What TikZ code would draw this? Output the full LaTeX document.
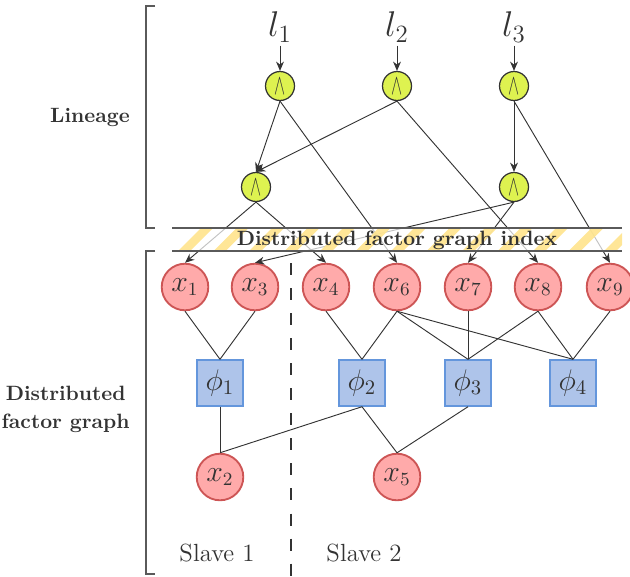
\documentclass[tikz,border=0pt]{standalone}
\usepackage{graphicx}
\usetikzlibrary{arrows.meta}
\definecolor{ink}{RGB}{51,51,51}
\definecolor{andfill}{RGB}{222,242,80}
\definecolor{xfill}{RGB}{255,170,170}
\definecolor{xdraw}{RGB}{205,85,85}
\definecolor{ffill}{RGB}{174,196,234}
\definecolor{fdraw}{RGB}{100,150,220}
\definecolor{stripe}{RGB}{255,228,140}
\definecolor{brk}{RGB}{90,90,90}
\begin{document}
\begin{tikzpicture}[x=0.483pt,y=-0.483pt,
  lit/.style={font=\LARGE, text=ink, inner sep=1.5pt},
  andnode/.style={circle, draw=ink, fill=andfill, line width=0.6pt, minimum size=14pt, inner sep=0pt, text=ink},
  varnode/.style={circle, draw=xdraw, fill=xfill, line width=0.9pt, minimum size=22.5pt, inner sep=0pt, font=\fontsize{13.5}{16}\selectfont, text=ink},
  facnode/.style={rectangle, draw=fdraw, fill=ffill, line width=0.9pt, minimum size=22pt, inner sep=0pt, font=\Large, text=ink},
  edge/.style={draw=ink, line width=0.45pt},
  arr/.style={edge, -{Stealth[length=4.5pt,width=3.8pt]}},
  sidelabel/.style={font=\bfseries, text=ink, anchor=east, align=center},
  bracket/.style={draw=brk, line width=0.9pt},
  bandline/.style={draw=brk, line width=0.6pt}
]
\useasboundingbox (0,0) rectangle (630,576);

% lineage
\node[lit] (l1) at (280,27) {$l_1$};
\node[lit] (l2) at (397,27) {$l_2$};
\node[lit] (l3) at (514,27) {$l_3$};
\node[andnode] (a1) at (280,86) {\scalebox{0.8}[1.4]{$\wedge$}};
\node[andnode] (a2) at (397,86) {\scalebox{0.8}[1.4]{$\wedge$}};
\node[andnode] (a3) at (514,86) {\scalebox{0.8}[1.4]{$\wedge$}};
\node[andnode] (a4) at (256,187) {\scalebox{0.8}[1.4]{$\wedge$}};
\node[andnode] (a5) at (514,187) {\scalebox{0.8}[1.4]{$\wedge$}};

% variables
\node[varnode] (x1) at (185,287) {$x_1$};
\node[varnode] (x3) at (255,287) {$x_3$};
\node[varnode] (x4) at (326,287) {$x_4$};
\node[varnode] (x6) at (397,287) {$x_6$};
\node[varnode] (x7) at (468,287) {$x_7$};
\node[varnode] (x8) at (538,287) {$x_8$};
\node[varnode] (x9) at (610,287) {$x_9$};
\node[varnode] (x2) at (220,477) {$x_2$};
\node[varnode] (x5) at (397,477) {$x_5$};

% factors
\node[facnode] (f1) at (220,383) {$\phi_1$};
\node[facnode] (f2) at (362,383) {$\phi_2$};
\node[facnode] (f3) at (468,383) {$\phi_3$};
\node[facnode] (f4) at (573,383) {$\phi_4$};

% lineage arrows
\draw[arr] (l1.south) -- (a1.north);
\draw[arr] (l2.south) -- (a2.north);
\draw[arr] (l3.south) -- (a3.north);
\draw[arr] (a1.south) -- (a4.north);
\draw[arr] (a2.south) -- (a4.north);
\draw[arr] (a3.south) -- (a5.north);
\draw[arr] (a1.south) -- (x6.north);
\draw[arr] (a2.south) -- (x8.north);
\draw[arr] (a3.south) -- (x9.north);
\draw[arr] (a4.south) -- (x1.north);
\draw[arr] (a4.south) -- (x4.north);
\draw[arr] (a5.south) -- (x7.north);
\draw[arr] (a5.south) -- (x3.north);

% index band
\fill[white, opacity=0.7] (172,228) rectangle (622,251);
\begin{scope}
  \clip (172,228) rectangle (622,251);
  \foreach \s in {0,...,12} {
    \fill[stripe, opacity=0.9] ({178+35.5*\s},251) -- ({190+35.5*\s},251) -- ({213+35.5*\s},228) -- ({201+35.5*\s},228) -- cycle;
  }
\end{scope}
\draw[bandline] (172,228) -- (622,228);
\draw[bandline] (172,251) -- (622,251);
\node[font=\bfseries, text=ink, inner sep=0pt] (idx) at (397,240) {Distributed factor graph index};

% factor graph edges
\draw[edge] (x1.south) -- (f1.north);
\draw[edge] (x3.south) -- (f1.north);
\draw[edge] (x4.south) -- (f2.north);
\draw[edge] (x6.south) -- (f2.north);
\draw[edge] (x6.south) -- (f3.north);
\draw[edge] (x6.south) -- (f4.north);
\draw[edge] (x7.south) -- (f3.north);
\draw[edge] (x8.south) -- (f3.north);
\draw[edge] (x8.south) -- (f4.north);
\draw[edge] (x9.south) -- (f4.north);
\draw[edge] (f1.south) -- (x2.north);
\draw[edge] (f2.south) -- (x2.north);
\draw[edge] (f2.south) -- (x5.north);
\draw[edge] (f3.south) -- (x5.north);

% slave separator
\coordinate (sepTop) at (291,263);
\coordinate (sepBot) at (291,576);
\draw[ink, line width=1pt, dash pattern=on 5.8pt off 6.3pt] (sepTop) -- (sepBot);
\node[font=\large, text=ink] (s1) at (217,553) {Slave 1};
\node[font=\large, text=ink] (s2) at (364,553) {Slave 2};

% brackets and side labels
\draw[bracket] (155,6) -- (146,6) -- (146,228) -- (155,228);
\draw[bracket] (155,251) -- (146,251) -- (146,574) -- (155,574);
\node[sidelabel] (lin) at (137,117) {Lineage};
\node[sidelabel] (dfg) at (137,409) {Distributed\\[1.5pt]factor graph};
\end{tikzpicture}
\end{document}
